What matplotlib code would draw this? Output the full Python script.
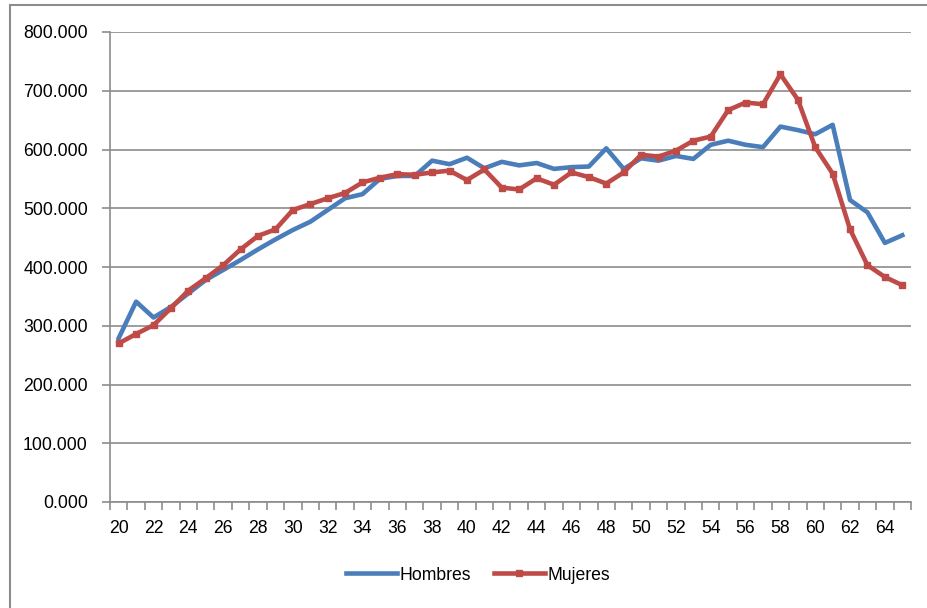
import matplotlib
matplotlib.use("Agg")
import matplotlib.pyplot as plt
from matplotlib.patches import Rectangle
from matplotlib.ticker import FixedLocator, FuncFormatter

plt.rcParams['font.family'] = ['Liberation Sans', 'DejaVu Sans']

edades = list(range(20, 66))
hombres = [279, 341, 314, 332, 355, 378, 395, 412, 430, 447, 463, 477, 497, 517, 524, 550,
           555, 555, 581, 575, 586, 568, 579, 573, 577, 567, 570, 571, 602, 567, 585, 581,
           589, 584, 608, 615, 608, 604, 639, 633, 626, 642, 514, 493, 441, 454]
mujeres = [270, 286, 301, 330, 360, 381, 403, 430, 453, 464, 497, 507, 517, 526, 544, 552,
           558, 557, 561, 564, 548, 566, 535, 532, 551, 540, 561, 553, 542, 561, 591, 588,
           598, 615, 622, 667, 680, 677, 728, 685, 604, 559, 464, 403, 383, 369]
yticks = [0, 100, 200, 300, 400, 500, 600, 700, 800]

W, H = 927, 608
fig = plt.figure(figsize=(W / 100, H / 100), dpi=100)
ax = fig.add_axes([110 / W, (H - 502) / H, (911 - 110) / W, (502 - 32) / H])

blue = '#4A7EBB'
red = '#BE4B48'
grid = '#8C8C8C'

x = list(range(len(edades)))
ax.plot(x, hombres, color=blue, lw=3.3, label='Hombres', solid_joinstyle='round', zorder=3)
ax.plot(x, mujeres, color=red, lw=3.3, marker='s', markersize=4, label='Mujeres',
        solid_joinstyle='round', zorder=4)

ax.set_xlim(-0.5, len(edades) - 0.5)
ax.set_ylim(0, 800)
ax.set_yticks(yticks)
ax.yaxis.set_major_formatter(FuncFormatter(lambda v, p: f"{v:.3f}"))
ax.yaxis.grid(True, color=grid, lw=1.2)
ax.set_axisbelow(True)

ax.xaxis.set_major_locator(FixedLocator([i - 0.5 for i in range(len(edades) + 1)]))
ax.xaxis.set_major_formatter(FuncFormatter(lambda v, p: ''))
ax.set_xticks([i for i in x if edades[i] % 2 == 0], minor=True)
ax.set_xticklabels([str(edades[i]) for i in x if edades[i] % 2 == 0], minor=True)
ax.tick_params(axis='x', which='minor', length=0, pad=13, labelsize=12.7)
ax.tick_params(axis='x', which='major', length=6, color=grid, width=1.2)
ax.tick_params(axis='y', length=6, color=grid, width=1.2, labelsize=12.7, pad=10)

for s in ['top', 'right']:
    ax.spines[s].set_visible(False)
for s in ['left', 'bottom']:
    ax.spines[s].set_color(grid)
    ax.spines[s].set_linewidth(1.2)

leg = fig.legend(loc='center', bbox_to_anchor=(478 / W, (H - 575) / H), ncol=2,
                 frameon=False, fontsize=12.7, handlelength=2.9, columnspacing=1.3,
                 handletextpad=0.15, numpoints=1)

fig.patches.append(Rectangle((10 / W, -0.05), 1.2, (H - 5) / H + 0.05, transform=fig.transFigure,
                             fill=False, edgecolor=grid, lw=1.5))

fig.savefig('out.png', dpi=100)
